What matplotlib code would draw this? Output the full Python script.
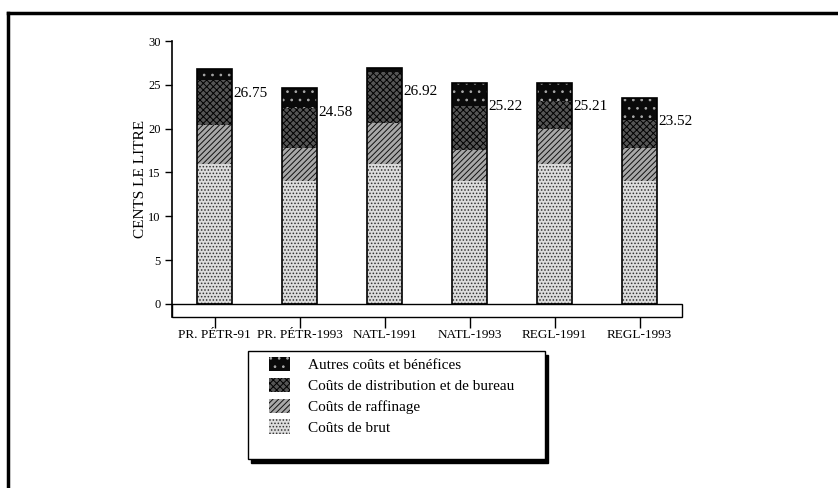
import numpy as np
import matplotlib
matplotlib.use("Agg")
import matplotlib.pyplot as plt
from matplotlib.patches import Patch, Rectangle
from matplotlib.lines import Line2D

# -----------------------------
# DATA (cents per litre)
# -----------------------------
regions = ["PR. PÉTR-91", "PR. PÉTR-1993", "NATL-1991", "NATL-1993", "REGL-1991", "REGL-1993"]
totals = [26.75, 24.58, 26.92, 25.22, 25.21, 23.52]

crude = [16.0, 14.0, 16.0, 14.0, 16.0, 14.0]
refining = [4.4, 3.8, 4.6, 3.6, 3.9, 3.8]
distribution = [5.1, 4.6, 5.9, 5.0, 3.2, 3.2]
other = [t - c - r - d for t, c, r, d in zip(totals, crude, refining, distribution)]

series_names = [
    "Coûts de brut",
    "Coûts de raffinage",
    "Coûts de distribution et de bureau",
    "Autres coûts et bénéfices",
]

# face colour, hatch colour, hatch pattern
styles = [
    ("#dcdcdc", "#333333", "....."),
    ("#a8a8a8", "#111111", "//////"),
    ("#555555", "#000000", "xxxxx"),
    ("#0a0a0a", "#aaaaaa", ".."),
]

plt.rcParams["font.family"] = ["Liberation Serif", "DejaVu Serif"]
plt.rcParams["hatch.linewidth"] = 0.7

fig = plt.figure(figsize=(8.38, 4.88), dpi=100)
ax = fig.add_axes([172 / 838, 1 - 317 / 488, 510 / 838, 276 / 488])

x = np.arange(len(regions))
width = 0.41
bottom = np.zeros(len(regions))
for vals, (fc, hc, h) in zip([crude, refining, distribution, other], styles):
    ax.bar(x, vals, width, bottom=bottom, color=fc, edgecolor=hc, hatch=h, linewidth=0)
    bottom += np.array(vals)

# outline of each stacked bar
ax.bar(x, totals, width, fill=False, edgecolor="black", linewidth=1.2)

# total labels
for xi, t in zip(x, totals):
    ax.text(xi + width / 2 + 0.02, t - 2.7, f"{t:.2f}", ha="left", va="center", fontsize=11)

# floor box under the bars
ax.add_patch(Rectangle((-0.5, -1.5), 6.0, 1.5, facecolor="white", edgecolor="black",
                       linewidth=1.0, clip_on=False))

ax.set_xlim(-0.5, 5.5)
ax.set_ylim(-1.5, 30)
ax.set_yticks(np.arange(0, 31, 5))
ax.set_xticks(x)
ax.set_xticklabels(regions, fontsize=9.5)
ax.tick_params(axis="y", labelsize=9, length=5, width=1, pad=3)
ax.tick_params(axis="x", length=8, width=1, pad=1)
ax.spines["top"].set_visible(False)
ax.spines["right"].set_visible(False)
ax.spines["bottom"].set_visible(False)
ax.spines["left"].set_bounds(-1.5, 30)
ax.spines["left"].set_linewidth(1.2)

ax.set_ylabel("CENTS LE LITRE", fontsize=11)
ax.yaxis.set_label_coords(-0.05, 0.5)

# legend box with drop shadow
lx0, ly0, lx1, ly1 = 248, 351, 545, 459
fig.add_artist(Rectangle(((lx0 + 3) / 838, 1 - (ly1 + 4) / 488), (lx1 - lx0) / 838,
                         (ly1 - ly0) / 488, facecolor="black", edgecolor="black",
                         transform=fig.transFigure))
fig.add_artist(Rectangle((lx0 / 838, 1 - ly1 / 488), (lx1 - lx0) / 838, (ly1 - ly0) / 488,
                         facecolor="white", edgecolor="black", linewidth=1.0,
                         transform=fig.transFigure))

handles = [Patch(facecolor=fc, edgecolor=hc, hatch=h, linewidth=0)
           for fc, hc, h in styles]
leg = fig.legend(handles[::-1], series_names[::-1], loc="upper left",
                 bbox_to_anchor=(269 / 838, 1 - 357 / 488), fontsize=11,
                 frameon=False, handlelength=1.37, handleheight=1.05, handletextpad=1.15,
                 labelspacing=0.36, borderpad=0, borderaxespad=0)
leg.set_zorder(5)

# page frame (top and left edges)
fig.add_artist(Line2D([8 / 838, 1], [1 - 13 / 488, 1 - 13 / 488], color="black", linewidth=2.5))
fig.add_artist(Line2D([8 / 838, 8 / 838], [0, 1 - 13 / 488], color="black", linewidth=2.5))

fig.savefig("out.png", dpi=100)
